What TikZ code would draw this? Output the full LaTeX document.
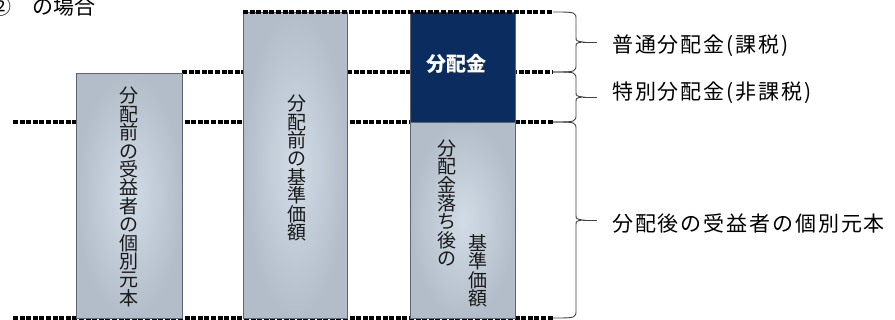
\documentclass[tikz,border=0pt]{standalone}
\usepackage{fontspec}
\newfontfamily\jp{Noto Sans CJK JP}
\newfontfamily\jplabel{Noto Sans CJK JP}[LetterSpace=9]
\definecolor{navy}{HTML}{0B2C5E}
\definecolor{boxin}{HTML}{D2DCE7}
\definecolor{boxout}{HTML}{B2BDC9}
\definecolor{boxedge}{HTML}{5C6670}
\newcommand\mybrace[3]{%
  \pgfmathsetmacro\bym{(#1+#2)/2}%
  \draw[brc] (553,#1) .. controls (576,#1) .. (576,#1+8) -- (576,\bym-5)
    .. controls (576,\bym-1) .. (583,\bym) coordinate (#3)
    .. controls (576,\bym+1) .. (576,\bym+5) -- (576,#2-8)
    .. controls (576,#2) .. (553,#2);
  \draw[brc] (#3) -- ++(14,0);
}
\begin{document}
\begin{tikzpicture}[x=1pt,y=-1pt,
  dline/.style={line width=3.5pt,dash pattern=on 5pt off 1.6pt},
  lbox/.style={draw=boxedge,line width=0.9pt,inner color=boxin,outer color=boxout,inner sep=0pt,anchor=north west},
  vtext/.style={font=\jp\fontsize{19}{18.4}\selectfont,align=center,inner sep=0pt,text=black!90},
  lab/.style={font=\jplabel\fontsize{21}{24}\selectfont,anchor=west,inner sep=0pt,text=black},
  brc/.style={line width=0.9pt,draw=black!75}]
\useasboundingbox (0,0) rectangle (895,320);
\clip (0,0) rectangle (895,320);

% title
\node[font=\jp\fontsize{21}{24}\selectfont,anchor=east,inner sep=0pt] (num) at (12,7) {②};
\node[font=\jp\fontsize{21}{24}\selectfont,anchor=west,inner sep=0pt] (title) at (32,7) {の場合};

% level coordinates
\coordinate (l2s) at (182,72);  \coordinate (l2e) at (553,72);
\coordinate (l3s) at (13,122);  \coordinate (l3e) at (553,122);
\coordinate (l4s) at (13,318);  \coordinate (l4e) at (553,318);
\coordinate (l1s) at (243,12);  \coordinate (l1e) at (553,12);

\draw[dline] (l2s) -- (l2e);
\draw[dline] (l3s) -- (l3e);
\draw[dline] (l4s) -- (l4e);

% boxes
\node[lbox,minimum width=106pt,minimum height=245pt] (b1) at (76,73) {};
\node[lbox,minimum width=104pt,minimum height=306pt] (b2) at (243,12) {};
\node[lbox,minimum width=105pt,minimum height=196pt] (b3) at (410,122) {};
\node[draw=boxedge,line width=0.9pt,fill=navy,inner sep=0pt,anchor=north west,
      minimum width=105pt,minimum height=110pt] (b3top) at (410,12) {};

\draw[dline] (l1s) -- (l1e);

% box texts
\node[vtext] (t1) at (129,197) {分\\配\\前\\の\\受\\益\\者\\の\\個\\別\\元\\本};
\node[vtext] (t2) at (297,168) {分\\配\\前\\の\\基\\準\\価\\額};
\node[vtext] (t3a) at (447,203) {分\\配\\金\\落\\ち\\後\\の};
\node[vtext] (t3b) at (478,271) {基\\準\\価\\額};
\node[font=\jp\bfseries\fontsize{20}{24}\selectfont,text=white,inner sep=0pt] (t3top) at (456,64) {分配金};

% braces
\mybrace{12}{72}{tipA}
\mybrace{72}{122}{tipB}
\mybrace{122}{318}{tipC}

% labels
\node[lab] (labA) at (612,46) {普通分配金(課税)};
\node[lab] (labB) at (612,92.5) {特別分配金(非課税)};
\node[lab] (labC) at (612,224) {分配後の受益者の個別元本};
\end{tikzpicture}
\end{document}
